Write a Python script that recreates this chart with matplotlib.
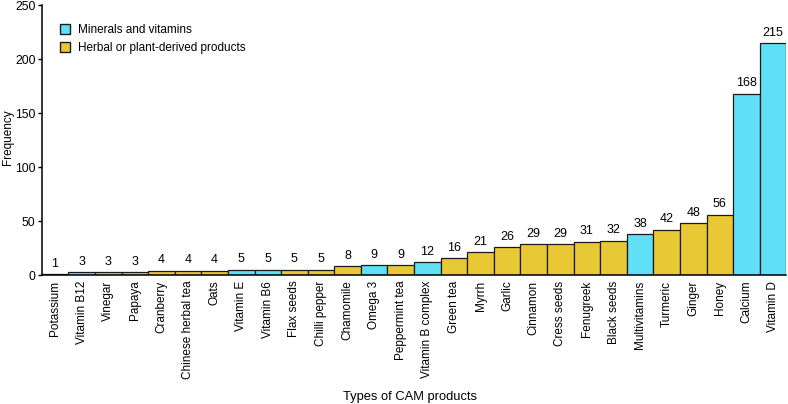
import matplotlib
matplotlib.use("Agg")
import matplotlib.pyplot as plt
from matplotlib.patches import Patch

plt.rcParams['font.family'] = ['Liberation Sans', 'DejaVu Sans']

# data
products = ["Potassium", "Vitamin B12", "Vinegar", "Papaya", "Cranberry",
            "Chinese herbal tea", "Oats", "Vitamin E", "Vitamin B6", "Flax seeds",
            "Chilli pepper", "Chamomile", "Omega 3", "Peppermint tea",
            "Vitamin B complex", "Green tea", "Myrrh", "Garlic", "Cinnamon",
            "Cress seeds", "Fenugreek", "Black seeds", "Multivitamins", "Turmeric",
            "Ginger", "Honey", "Calcium", "Vitamin D"]
freq = [1, 3, 3, 3, 4, 4, 4, 5, 5, 5, 5, 8, 9, 9, 12, 16, 21, 26, 29, 29,
        31, 32, 38, 42, 48, 56, 168, 215]
# M = minerals and vitamins, H = herbal or plant-derived
group = ["M", "M", "H", "H", "H", "H", "H", "M", "M", "H", "H", "H", "M", "H",
         "M", "H", "H", "H", "H", "H", "H", "H", "M", "H", "H", "H", "M", "M"]

cyan = "#5fe0f7"
yellow = "#e8c935"
colors = [cyan if g == "M" else yellow for g in group]

fig = plt.figure(figsize=(7.88, 4.04), dpi=100)
ax = fig.add_axes([0.053, 0.319, 0.945, 0.668])

x = range(len(products))
ax.bar(x, freq, width=1.0, color=colors, edgecolor="#1a1a1a", linewidth=0.9)

for i, v in enumerate(freq):
    ax.text(i, v + 4, str(v), ha="center", va="bottom", fontsize=9)

ax.set_xlim(-0.5, len(products) - 0.5)
ax.set_ylim(0, 250)
ax.set_yticks([0, 50, 100, 150, 200, 250])
ax.set_xticks(list(x))
ax.set_xticklabels(products, rotation=90, fontsize=8.5)
ax.tick_params(axis="x", length=0, pad=4)
ax.tick_params(axis="y", labelsize=8.8, length=3, width=1, pad=1.5)

for s in ["top", "right"]:
    ax.spines[s].set_visible(False)
ax.spines["left"].set_linewidth(1.1)
ax.spines["bottom"].set_linewidth(1.1)

fig.text(0.010, 0.66, "Frequency", rotation=90, ha="center", va="center", fontsize=8.5)
fig.text(0.52, 0.017, "Types of CAM products", ha="center", va="center", fontsize=9.3)

handles = [Patch(facecolor=cyan, edgecolor="#1a1a1a", label="Minerals and vitamins"),
           Patch(facecolor=yellow, edgecolor="#1a1a1a", label="Herbal or plant-derived products")]
ax.legend(handles=handles, loc="upper left", bbox_to_anchor=(0.01, 0.97),
          frameon=False, fontsize=8.5, handlelength=0.9, handleheight=0.9,
          handletextpad=0.6, labelspacing=0.5)

fig.savefig("out.png", dpi=100)
